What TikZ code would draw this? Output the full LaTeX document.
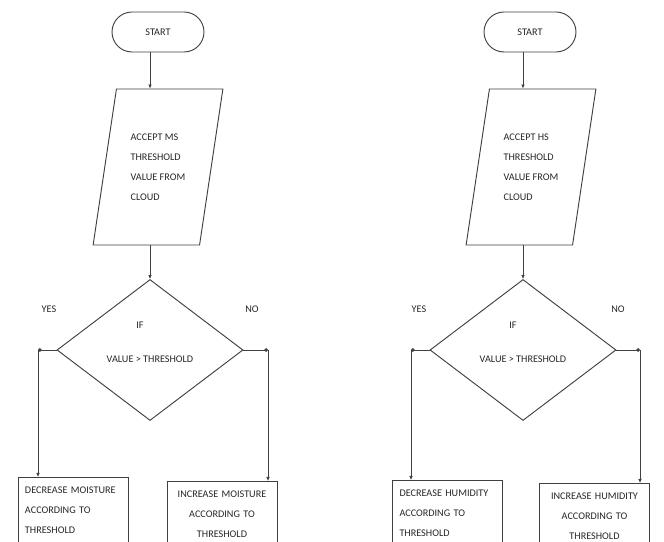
\documentclass[tikz,border=0pt]{standalone}
\usepackage{fontspec}
\setmainfont{Carlito}
\usetikzlibrary{arrows.meta,positioning,shapes.geometric}
\begin{document}
\begin{tikzpicture}[x=0.03cm,y=-0.03cm,
every node/.style={text=black!85,font=\fontsize{8.7}{17}\selectfont},
ln/.style={draw=black!75,line width=0.8pt},
term/.style={ln,rounded corners=0.6cm,minimum width=2.76cm,minimum height=1.2cm},
io/.style={ln,trapezium,trapezium left angle=77,trapezium right angle=103,trapezium stretches,minimum width=3.9cm,minimum height=4.68cm,align=left,inner sep=0pt},
dec/.style={ln,diamond,minimum width=5.58cm,minimum height=4.23cm,inner sep=0pt},
act/.style={ln,anchor=north,minimum height=1.98cm,text width=2.88cm,inner xsep=0.21cm,inner ysep=0pt},
arr/.style={draw=black!75,line width=0.8pt,-{Latex[length=1.2mm,width=1.1mm]}},
dot/.style={draw=black!75,line width=0.8pt,-{Circle[length=1.1mm]}}
]
\useasboundingbox (0,0) rectangle (664,542);
\clip (0,0) rectangle (664,542);

\node[term] (stA) at (158,32) {START};
\node[io] (inA) at (158,167) {ACCEPT MS\\THRESHOLD\\VALUE FROM\\CLOUD};
\node[dec] (ifA) at (150,350) {};
\node[align=center] (ifAt) at (150,342) {\hspace*{-0.6cm}IF\\[12pt]VALUE > THRESHOLD};
\node (yesA) at (49,309) {YES};
\node (noA) at (252,309) {NO};
\coordinate (yA) at (38,350);
\coordinate (nA) at (268,350);
\node[act,align=left] (decA) at (73,477) {DECREASE MOISTURE\\ACCORDING TO\\THRESHOLD};
\node[act,align=center] (incA) at (222,481) {INCREASE MOISTURE\\ACCORDING TO\\THRESHOLD};
\draw[arr] (stA.south -| ifA) -- (inA.north -| ifA); \draw[arr] (inA.south -| ifA) -- (ifA.north);
\draw[dot] (ifA.west) -- (yA); \draw[arr] (yA) -- (yA |- decA.north);
\draw[dot] (ifA.east) -- (nA); \draw[arr] (nA) -- (nA |- incA.north);

\node[term] (stB) at (530,32) {START};
\node[io] (inB) at (531,167) {ACCEPT HS\\THRESHOLD\\VALUE FROM\\CLOUD};
\node[dec] (ifB) at (523,350) {};
\node[align=center] (ifBt) at (523,342) {\hspace*{-0.6cm}IF\\[12pt]VALUE > THRESHOLD};
\node (yesB) at (419,309) {YES};
\node (noB) at (618,309) {NO};
\coordinate (yB) at (411,350);
\coordinate (nB) at (640,350);
\node[act,align=left] (decB) at (447.5,480) {DECREASE HUMIDITY\\ACCORDING TO\\THRESHOLD};
\node[act,align=center] (incB) at (594.5,483) {INCREASE HUMIDITY\\ACCORDING TO\\THRESHOLD};
\draw[arr] (stB.south -| ifB) -- (inB.north -| ifB); \draw[arr] (inB.south -| ifB) -- (ifB.north);
\draw[dot] (ifB.west) -- (yB); \draw[arr] (yB) -- (yB |- decB.north);
\draw[dot] (ifB.east) -- (nB); \draw[arr] (nB) -- (nB |- incB.north);
\end{tikzpicture}
\end{document}
